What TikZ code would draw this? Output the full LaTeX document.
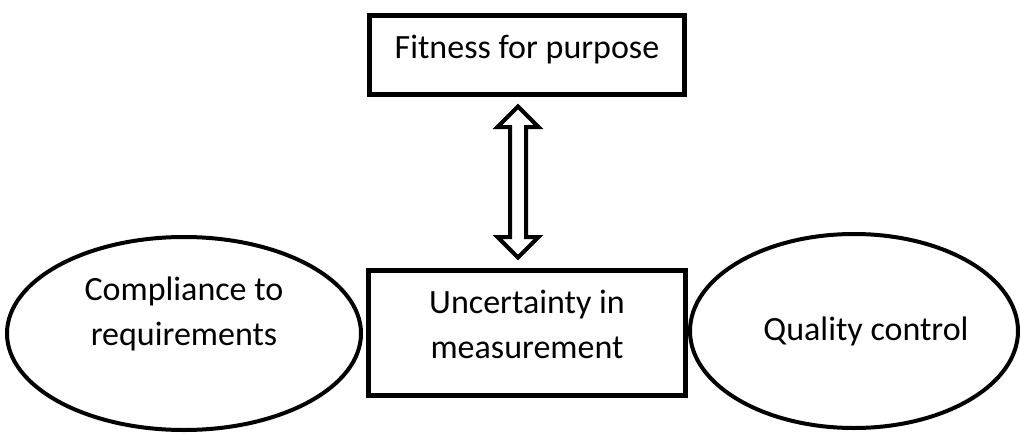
\documentclass[tikz,border=0pt]{standalone}
\usepackage{fontspec}
\setmainfont{Carlito}
\usetikzlibrary{calc,shapes.geometric}

\begin{document}
\begin{tikzpicture}[x=0.75pt,y=-0.75pt,
		txt/.style={align=center, inner sep=0pt, font=\fontsize{25.5}{33.75}\selectfont},
		box/.style={txt, draw, line width=3.75pt},
		oval/.style={txt, draw, ellipse, line width=3pt},
		twoway/.style={draw, line width=3pt, line join=miter, fill=white}]
		%%%%% START %%%%%
		
		\useasboundingbox (0, 0) rectangle (1021, 432);
		
		\node[box, minimum width=236.25pt, minimum height=59.25pt, text height=18pt, text depth=13.5pt] (fit) at (527, 55) {Fitness for purpose};
		
		\node[box, minimum width=237.75pt, minimum height=93.75pt, text height=42pt, text depth=4.5pt] (unc) at (527, 333) {Uncertainty in\\measurement};
		
		\node[oval, minimum width=265.5pt, minimum height=144.75pt, text height=21.75pt, text depth=4.5pt] (comp) at (184, 333.5) {Compliance to\\requirements};
		
		\node[oval, minimum width=246pt, minimum height=145.5pt, text height=18pt, text depth=4.5pt] (qc) at (854, 331) {\hspace*{18pt}Quality control};
		
		% hollow two-way arrow between the boxes
		\coordinate (tipa) at ($(fit.south)+(-9, 9.5)$);
		\coordinate (tipb) at ($(unc.north)+(-9, -10.5)$);
		\draw[twoway] (tipa) -- ($(tipa)+(20.5, 20.5)$) -- ($(tipa)+(8, 20.5)$) -- ($(tipb)+(8, -20.5)$) -- ($(tipb)+(20.5, -20.5)$) -- (tipb)
			-- ($(tipb)+(-20.5, -20.5)$) -- ($(tipb)+(-8, -20.5)$) -- ($(tipa)+(-8, 20.5)$) -- ($(tipa)+(-20.5, 20.5)$) -- cycle;
		
		%%%%% END %%%%%
	\end{tikzpicture}
\end{document}
